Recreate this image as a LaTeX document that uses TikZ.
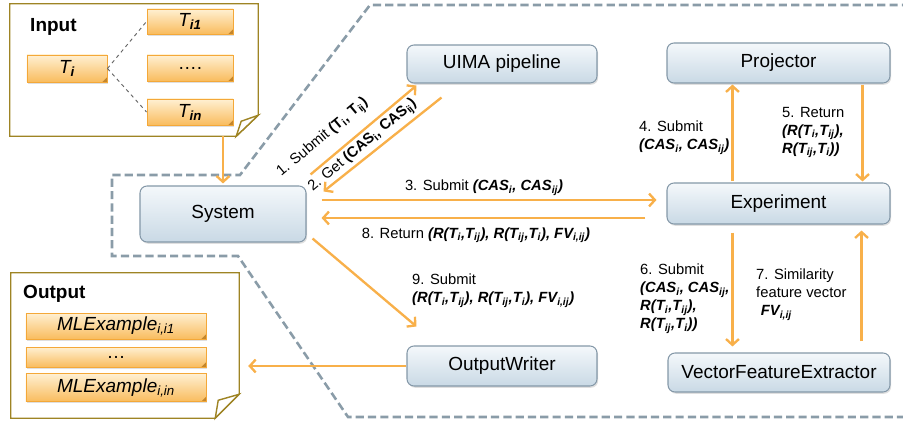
\documentclass[tikz,border=0pt]{standalone}
\usepackage{fontspec}
\setmainfont{Liberation Sans}
\usetikzlibrary{arrows.meta,calc,shadows}

\definecolor{flowc}{HTML}{F8B04A}
\definecolor{compline}{HTML}{8498A8}
\definecolor{comptop}{HTML}{F4F8FB}
\definecolor{compbot}{HTML}{C9D9E5}
\definecolor{itemline}{HTML}{F4A838}
\definecolor{itemtop}{HTML}{FFF0D2}
\definecolor{itembot}{HTML}{F9BC5E}
\definecolor{notec}{HTML}{9E8424}
\definecolor{borderc}{HTML}{8A9CA8}

\newcommand{\sbs}[1]{\textsubscript{#1}}
\newcommand{\bi}[1]{\textbf{\textit{#1}}}

\tikzset{
  comp/.style={rectangle, rounded corners=6pt, draw=compline, line width=0.9pt,
    top color=comptop, bottom color=compbot, inner sep=0pt,
    drop shadow={opacity=0.25, shadow xshift=1pt, shadow yshift=-1.5pt},
    font=\fontsize{16.2}{19}\selectfont},
  item/.style={rectangle, draw=itemline, line width=0.8pt,
    top color=itemtop, bottom color=itembot, inner sep=0pt,
    drop shadow={opacity=0.25, shadow xshift=1pt, shadow yshift=-1.5pt},
    font=\fontsize{16.2}{19}\selectfont\itshape,
    path picture={\fill[itemline!80!black]
      ([xshift=-4pt]path picture bounding box.south east) --
      ([yshift=4pt]path picture bounding box.south east) --
      (path picture bounding box.south east) -- cycle;}},
  note/.style={draw=notec, line width=1.2pt, line join=miter},
  title/.style={font=\fontsize{16.2}{19}\selectfont\bfseries, inner sep=0pt, anchor=base west},
  flow/.style={draw=flowc, line width=2pt, -{Straight Barb[length=5pt,width=11pt]}},
  lbl/.style={font=\fontsize{12.6}{15.3}\selectfont, inner sep=0pt, align=left},
  boundary/.style={draw=borderc, line width=2.2pt, dash pattern=on 7pt off 3.5pt},
  tree/.style={draw=black!60, line width=0.8pt, dashed}
}

\begin{document}
\begin{tikzpicture}[x=0.03cm, y=-0.03cm]
    \useasboundingbox (0,0) rectangle (903,427);

    % Boundary of the framework
    \draw [boundary] (910,5) -- (370,5) -- (240,175) -- (112,175) -- (112,256)
        -- (238,256) -- (348,417) -- (910,417);

    % Input and output notes
    \node [minimum width=7.44cm, minimum height=3.96cm] (input)  at (134,70)    {};
    \node [minimum width=6.84cm, minimum height=4.35cm] (output) at (125,345.5) {};
    \draw [note] (input.north west) -- (input.north east) -- ($(input.south east)+(0,-21)$)
        -- ($(input.south east)+(-22,0)$) -- (input.south west) -- cycle;
    \draw [note, fill=white] ($(input.south east)+(-22,0)$) -- ($(input.south east)+(-17,-15)$)
        -- ($(input.south east)+(0,-21)$) -- cycle;
    \draw [note] (output.north west) -- (output.north east) -- ($(output.south east)+(0,-24)$)
        -- ($(output.south east)+(-24,0)$) -- (output.south west) -- cycle;
    \draw [note, fill=white] ($(output.south east)+(-24,0)$) -- ($(output.south east)+(-21,-18)$)
        -- ($(output.south east)+(0,-24)$) -- cycle;
    \node [title] (intitle)  at (30,32)  {Input};
    \node [title] (outtitle) at (23,298) {Output};

    % Texts and examples
    \node [item, minimum width=2.4cm,  minimum height=0.81cm] (ti)     at (67,68.5)  {T\sbs{\textbf{i}}};
    \node [item, minimum width=2.58cm, minimum height=0.75cm] (ti1)    at (190,21.5) {T\sbs{\textbf{i1}}};
    \node [item, minimum width=2.58cm, minimum height=0.78cm] (tdots)  at (190,68)   {\upshape ….};
    \node [item, minimum width=2.58cm, minimum height=0.78cm] (tin)    at (190,112)  {T\sbs{\textbf{in}}};
    \node [item, minimum width=5.4cm,  minimum height=0.78cm] (ml1)    at (116,326)  {MLExample\sbs{i,i1}};
    \node [item, minimum width=5.4cm,  minimum height=0.6cm]  (mldots) at (116,357)  {\upshape …};
    \node [item, minimum width=5.4cm,  minimum height=0.84cm] (mln)    at (116,387.5){MLExample\sbs{i,in}};
    \draw [tree] (ti.east) -- (ti1.west);
    \draw [tree] (ti.east) -- (tin.west);

    % Components
    \node [comp, minimum width=4.98cm, minimum height=1.68cm] (sys)  at (223,214)     {System};
    \node [comp, minimum width=5.7cm,  minimum height=1.14cm] (uima) at (502,64)      {UIMA pipeline};
    \node [comp, minimum width=6.69cm, minimum height=1.2cm]  (proj) at (778.5,63)    {Projector};
    \node [comp, minimum width=6.69cm, minimum height=1.23cm] (exp)  at (778.5,203.5) {Experiment};
    \node [comp, minimum width=5.7cm,  minimum height=1.2cm]  (ow)   at (502,366)     {OutputWriter};
    \node [comp, minimum width=6.66cm, minimum height=1.17cm] (vfe)  at (779,372.5)   {VectorFeatureExtractor};

    % Paths
    \draw [flow] (input.south -| sys.north) -- ($(sys.north)+(0,-2)$);
    \draw [flow] ($(sys.north east)+(4,-11)$) -- ($(uima.south west)+(10,2)$);
    \draw [flow] ($(uima.south west)+(35,14)$) -- ($(sys.north east)+(17,6)$);
    \draw [flow] ($(sys.east)+(15,-14)$) -- ($(exp.west)+(-10,-3.5)$);
    \draw [flow] ($(exp.west)+(-21,14.5)$) -- ($(sys.east)+(15,4)$);
    \draw [flow] ($(exp.north west)+(66,-1)$) -- ($(proj.south west)+(66,1)$);
    \draw [flow] ($(proj.south east)+(-28,1)$) -- ($(exp.north east)+(-28,-1)$);
    \draw [flow] ($(exp.south west)+(66,8)$) -- ($(vfe.north west)+(65,-6)$);
    \draw [flow] ($(vfe.north east)+(-29,-11)$) -- ($(exp.south east)+(-29,6)$);
    \draw [flow] ($(sys.south east)+(6,-4)$) -- ($(ow.north west)+(10,-19)$);
    \draw [flow] (ow.west) -- ($(output.east |- ow.west)+(9,0)$);

    % Labels
    \node [lbl, rotate=40] (l1) at (323,138) {1. Submit \textbf{(T\sbs{i}, T\sbs{ij})}};
    \node [lbl, rotate=40] (l2) at (363,146) {2. Get \textbf{(CAS\sbs{i}, CAS\sbs{ij})}};
    \node [lbl, anchor=base] (l3) at (484,191) {3. Submit \bi{(CAS\sbs{i}, CAS\sbs{ij})}};
    \node [lbl, anchor=north west] (l4) at (639,121) {4. Submit\\\bi{(CAS\sbs{i}, CAS\sbs{ij})}};
    \node [lbl, anchor=north west] (l5) at (782,107) {5. Return\\\bi{(R(T\sbs{i},T\sbs{ij}),}\\\bi{R(T\sbs{ij},T\sbs{i}))}};
    \node [lbl, anchor=north west] (l6) at (640,264) {6. Submit\\\bi{(CAS\sbs{i}, CAS\sbs{ij},}\\\bi{R(T\sbs{i},T\sbs{ij}),}\\\bi{R(T\sbs{ij},T\sbs{i}))}};
    \node [lbl, anchor=north west] (l7) at (756,269) {7. Similarity\\feature vector\\\hspace{4pt}\bi{FV\sbs{i,ij}}};
    \node [lbl, anchor=base] (l8) at (476,238) {8. Return \bi{(R(T\sbs{i},T\sbs{ij}), R(T\sbs{ij},T\sbs{i}), FV\sbs{i,ij})}};
    \node [lbl, anchor=north west] (l9) at (412,274) {9. Submit\\\bi{(R(T\sbs{i},T\sbs{ij}), R(T\sbs{ij},T\sbs{i}), FV\sbs{i,ij})}};

\end{tikzpicture}
\end{document}
